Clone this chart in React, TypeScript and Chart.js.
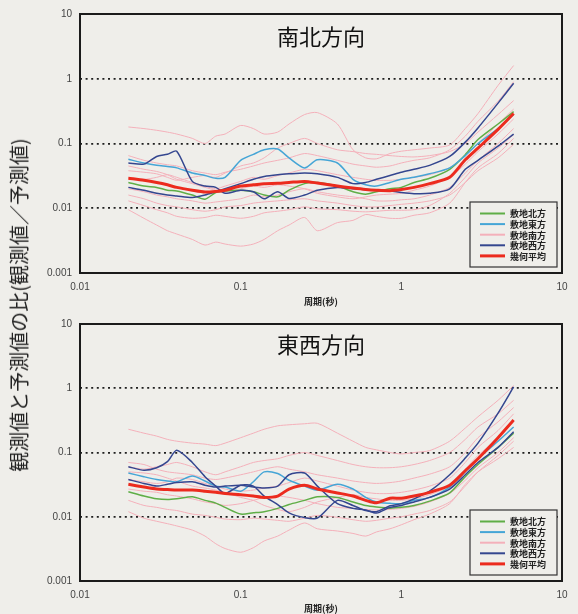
import React, { useEffect, useRef } from 'react';
import { Chart, registerables } from 'chart.js';

Chart.register(...registerables);

// ---------- data ----------
const PERIODS = [0.02, 0.025, 0.03, 0.035, 0.04, 0.05, 0.06, 0.07, 0.08, 0.1, 0.12, 0.14, 0.17, 0.2, 0.25, 0.3, 0.4, 0.5, 0.6, 0.7, 0.85, 1.0, 1.2, 1.5, 2.0, 2.5, 3.0, 4.0, 5.0];

const X_TICKS = [0.01, 0.1, 1, 10];
const X_TICK_LABELS = ['0.01', '0.1', '1', '10'];
const Y_TICKS = [0.001, 0.01, 0.1, 1, 10];
const Y_TICK_LABELS = ['0.001', '0.01', '0.1', '1', '10'];
const Y_GRID = [0.01, 0.1, 1];

const LEGEND_LABELS = ['敷地北方', '敷地東方', '敷地南方', '敷地西方', '幾何平均'];
const X_TITLE = '周期(秒)';
const Y_TITLE = '観測値と予測値の比(観測値／予測値)';
const TITLE_NS = '南北方向';
const TITLE_EW = '東西方向';

// 南北方向
const NS_MEAN = [0.029, 0.027, 0.025, 0.023, 0.021, 0.019, 0.0178, 0.0182, 0.019, 0.022, 0.023, 0.024, 0.0243, 0.025, 0.026, 0.0245, 0.022, 0.0205, 0.0195, 0.019, 0.0187, 0.0195, 0.021, 0.024, 0.03, 0.056, 0.085, 0.165, 0.29];
const NS_NORTH = [0.025, 0.022, 0.021, 0.019, 0.0185, 0.016, 0.0138, 0.0175, 0.0185, 0.019, 0.018, 0.016, 0.015, 0.019, 0.024, 0.025, 0.022, 0.018, 0.0165, 0.018, 0.02, 0.021, 0.025, 0.029, 0.04, 0.067, 0.115, 0.2, 0.31];
const NS_EAST = [0.057, 0.05, 0.046, 0.044, 0.042, 0.035, 0.032, 0.029, 0.03, 0.055, 0.068, 0.08, 0.082, 0.06, 0.042, 0.056, 0.05, 0.028, 0.023, 0.022, 0.025, 0.028, 0.03, 0.034, 0.042, 0.065, 0.1, 0.17, 0.28];
const NS_WEST_1 = [0.05, 0.048, 0.063, 0.068, 0.076, 0.026, 0.022, 0.021, 0.017, 0.019, 0.018, 0.014, 0.018, 0.0142, 0.016, 0.019, 0.021, 0.02, 0.0195, 0.019, 0.0185, 0.0175, 0.0168, 0.017, 0.02, 0.04, 0.055, 0.091, 0.14];
const NS_WEST_2 = [0.021, 0.019, 0.017, 0.016, 0.0155, 0.0147, 0.016, 0.018, 0.02, 0.024, 0.028, 0.031, 0.033, 0.034, 0.035, 0.034, 0.03, 0.024, 0.025, 0.028, 0.032, 0.036, 0.04, 0.046, 0.063, 0.105, 0.174, 0.42, 0.85];
const NS_SOUTH_1 = [0.18, 0.17, 0.16, 0.15, 0.14, 0.12, 0.1, 0.13, 0.14, 0.19, 0.17, 0.14, 0.15, 0.2, 0.28, 0.3, 0.2, 0.08, 0.06, 0.058, 0.07, 0.076, 0.08, 0.085, 0.095, 0.17, 0.29, 0.79, 1.6];
const NS_SOUTH_2 = [0.065, 0.055, 0.05, 0.047, 0.045, 0.038, 0.035, 0.033, 0.036, 0.04, 0.045, 0.05, 0.055, 0.06, 0.07, 0.065, 0.055, 0.048, 0.045, 0.043, 0.045, 0.05, 0.055, 0.06, 0.08, 0.13, 0.22, 0.45, 0.9];
const NS_SOUTH_3 = [0.038, 0.036, 0.034, 0.03, 0.027, 0.03, 0.032, 0.03, 0.035, 0.045, 0.05, 0.06, 0.085, 0.1, 0.12, 0.1, 0.08, 0.075, 0.07, 0.068, 0.065, 0.063, 0.062, 0.065, 0.075, 0.1, 0.15, 0.28, 0.46];
const NS_SOUTH_4 = [0.03, 0.028, 0.03, 0.033, 0.03, 0.025, 0.022, 0.02, 0.022, 0.026, 0.03, 0.028, 0.032, 0.035, 0.04, 0.038, 0.033, 0.03, 0.028, 0.027, 0.027, 0.028, 0.03, 0.033, 0.042, 0.065, 0.1, 0.2, 0.34];
const NS_SOUTH_5 = [0.045, 0.04, 0.037, 0.033, 0.028, 0.024, 0.021, 0.019, 0.018, 0.02, 0.022, 0.021, 0.023, 0.022, 0.02, 0.017, 0.015, 0.014, 0.015, 0.016, 0.0165, 0.017, 0.019, 0.022, 0.03, 0.048, 0.075, 0.14, 0.24];
const NS_SOUTH_6 = [0.02, 0.018, 0.016, 0.015, 0.014, 0.013, 0.012, 0.0125, 0.013, 0.014, 0.016, 0.015, 0.016, 0.018, 0.02, 0.018, 0.016, 0.015, 0.014, 0.013, 0.013, 0.0135, 0.014, 0.016, 0.021, 0.035, 0.055, 0.1, 0.17];
const NS_SOUTH_7 = [0.013, 0.011, 0.0095, 0.0085, 0.0075, 0.007, 0.0072, 0.0078, 0.0075, 0.007, 0.0075, 0.0085, 0.009, 0.0095, 0.0105, 0.0098, 0.0095, 0.009, 0.0088, 0.009, 0.0093, 0.0093, 0.0095, 0.011, 0.017, 0.03, 0.05, 0.085, 0.137];
const NS_SOUTH_8 = [0.0095, 0.007, 0.0055, 0.0045, 0.004, 0.0033, 0.0027, 0.003, 0.0028, 0.0026, 0.0028, 0.0033, 0.0045, 0.0055, 0.0072, 0.0045, 0.006, 0.0065, 0.008, 0.0075, 0.007, 0.007, 0.0078, 0.0085, 0.012, 0.025, 0.042, 0.07, 0.12];
const NS_SOUTH_9 = [0.016, 0.014, 0.012, 0.011, 0.0105, 0.0095, 0.009, 0.0095, 0.0105, 0.011, 0.012, 0.0125, 0.013, 0.0135, 0.014, 0.013, 0.012, 0.011, 0.0105, 0.0105, 0.011, 0.0115, 0.012, 0.013, 0.016, 0.025, 0.038, 0.06, 0.097];

// 東西方向
const EW_MEAN = [0.032, 0.029, 0.027, 0.0265, 0.026, 0.026, 0.025, 0.024, 0.023, 0.022, 0.021, 0.02, 0.021, 0.027, 0.031, 0.027, 0.0235, 0.021, 0.018, 0.0165, 0.0194, 0.0194, 0.021, 0.024, 0.031, 0.052, 0.08, 0.17, 0.32];
const EW_NORTH = [0.0245, 0.021, 0.019, 0.0185, 0.019, 0.0205, 0.018, 0.0163, 0.014, 0.011, 0.0115, 0.012, 0.0135, 0.0155, 0.018, 0.0205, 0.02, 0.017, 0.015, 0.0142, 0.0136, 0.014, 0.015, 0.0175, 0.0235, 0.042, 0.065, 0.12, 0.2];
const EW_EAST = [0.048, 0.042, 0.038, 0.036, 0.035, 0.043, 0.036, 0.03, 0.029, 0.025, 0.035, 0.05, 0.047, 0.037, 0.03, 0.026, 0.032, 0.027, 0.02, 0.017, 0.0162, 0.016, 0.018, 0.02, 0.029, 0.05, 0.08, 0.15, 0.25];
const EW_WEST_1 = [0.06, 0.053, 0.058, 0.072, 0.108, 0.07, 0.042, 0.03, 0.023, 0.031, 0.03, 0.021, 0.0155, 0.0115, 0.0097, 0.0095, 0.018, 0.015, 0.0125, 0.012, 0.0148, 0.016, 0.019, 0.025, 0.045, 0.082, 0.14, 0.41, 1.05];
const EW_WEST_2 = [0.038, 0.033, 0.03, 0.032, 0.034, 0.035, 0.031, 0.029, 0.03, 0.031, 0.029, 0.028, 0.03, 0.045, 0.048, 0.03, 0.016, 0.0135, 0.0128, 0.0114, 0.014, 0.015, 0.017, 0.02, 0.027, 0.045, 0.07, 0.12, 0.21];
const EW_SOUTH_1 = [0.23, 0.2, 0.18, 0.16, 0.15, 0.14, 0.135, 0.128, 0.14, 0.17, 0.2, 0.23, 0.26, 0.27, 0.28, 0.285, 0.2, 0.15, 0.12, 0.11, 0.1, 0.095, 0.1, 0.107, 0.15, 0.24, 0.36, 0.65, 1.1];
const EW_SOUTH_2 = [0.06, 0.055, 0.06, 0.065, 0.07, 0.06, 0.05, 0.045, 0.05, 0.06, 0.07, 0.075, 0.08, 0.09, 0.1, 0.09, 0.075, 0.065, 0.06, 0.058, 0.058, 0.06, 0.065, 0.075, 0.1, 0.16, 0.25, 0.4, 0.65];
const EW_SOUTH_3 = [0.038, 0.035, 0.033, 0.035, 0.04, 0.038, 0.033, 0.03, 0.027, 0.025, 0.026, 0.028, 0.03, 0.034, 0.04, 0.036, 0.03, 0.026, 0.024, 0.023, 0.023, 0.024, 0.026, 0.03, 0.04, 0.07, 0.12, 0.22, 0.4];
const EW_SOUTH_4 = [0.027, 0.025, 0.024, 0.022, 0.021, 0.019, 0.017, 0.016, 0.015, 0.016, 0.018, 0.02, 0.021, 0.02, 0.018, 0.016, 0.014, 0.0135, 0.013, 0.0128, 0.013, 0.0135, 0.0145, 0.017, 0.023, 0.037, 0.058, 0.1, 0.17];
const EW_SOUTH_5 = [0.05, 0.048, 0.045, 0.04, 0.036, 0.03, 0.028, 0.026, 0.024, 0.02, 0.018, 0.015, 0.013, 0.012, 0.014, 0.017, 0.02, 0.022, 0.02, 0.019, 0.018, 0.018, 0.019, 0.022, 0.03, 0.055, 0.09, 0.17, 0.32];
const EW_SOUTH_6 = [0.07, 0.065, 0.055, 0.05, 0.048, 0.045, 0.04, 0.038, 0.04, 0.045, 0.05, 0.055, 0.06, 0.055, 0.05, 0.045, 0.04, 0.036, 0.034, 0.033, 0.034, 0.036, 0.04, 0.046, 0.06, 0.1, 0.17, 0.3, 0.5];
const EW_SOUTH_7 = [0.012, 0.0095, 0.0085, 0.0078, 0.0072, 0.0062, 0.005, 0.0038, 0.0032, 0.0028, 0.0033, 0.0042, 0.005, 0.0062, 0.008, 0.0065, 0.006, 0.0055, 0.005, 0.0058, 0.0065, 0.0075, 0.009, 0.011, 0.016, 0.032, 0.05, 0.08, 0.12];
const EW_SOUTH_8 = [0.018, 0.015, 0.014, 0.013, 0.0125, 0.011, 0.0105, 0.0098, 0.0092, 0.009, 0.0095, 0.0092, 0.0088, 0.0085, 0.0095, 0.0105, 0.0098, 0.009, 0.0085, 0.0088, 0.0095, 0.01, 0.011, 0.0125, 0.017, 0.03, 0.05, 0.09, 0.15];

// ---------- style ----------
const BG = '#efeeea';
const C_NORTH = '#5fae47';
const C_EAST = '#45a5d6';
const C_SOUTH = '#f4b0ba';
const C_WEST = '#34468f';
const C_MEAN = '#ec2b1e';
const LEGEND_COLORS = [C_NORTH, C_EAST, C_SOUTH, C_WEST, C_MEAN];
const TICK_FONT = { family: "'Liberation Sans', Arial, sans-serif", size: 10 };
const JP = "'Noto Sans CJK JP', 'Noto Sans', sans-serif";

const toPts = (vals: (number | null)[]) =>
  PERIODS.map((p, i) => ({ x: p, y: vals[i] })).filter((d) => d.y != null);

const line = (vals: number[], color: string, width: number) => ({
  data: toPts(vals),
  borderColor: color,
  borderWidth: width,
  pointRadius: 0,
  tension: 0.25,
  fill: false,
});

type PanelProps = {
  title: string;
  mean: number[];
  north: number[];
  east: number[];
  west: number[][];
  south: number[][];
  top: number;
  height: number;
  padTop: number;
  xAxisHeight: number;
  titleOffset: number;
  xTitlePadBottom: number;
};

function Panel(props: PanelProps) {
  const ref = useRef<HTMLCanvasElement | null>(null);
  useEffect(() => {
    const datasets = [
      line(props.mean, C_MEAN, 3),
      ...props.west.map((w) => line(w, C_WEST, 1.5)),
      line(props.east, C_EAST, 1.5),
      line(props.north, C_NORTH, 1.5),
      ...props.south.map((s) => line(s, C_SOUTH, 1)),
    ];

    const decor = {
      id: 'decor',
      afterDraw(chart: any) {
        const { ctx, chartArea: a } = chart;
        ctx.save();
        // frame
        ctx.strokeStyle = '#1b1b1b';
        ctx.lineWidth = 2;
        ctx.strokeRect(a.left, a.top, a.right - a.left, a.bottom - a.top);
        // inner title
        ctx.fillStyle = '#111';
        ctx.font = `22px ${JP}`;
        ctx.textAlign = 'center';
        ctx.textBaseline = 'middle';
        ctx.fillText(props.title, (a.left + a.right) / 2, a.top + props.titleOffset);
        // legend box
        const w = 87;
        const h = 65;
        const bx = a.right - 5 - w;
        const by = a.bottom - 6 - h;
        ctx.fillStyle = BG;
        ctx.fillRect(bx, by, w, h);
        ctx.lineWidth = 1.2;
        ctx.strokeStyle = '#333';
        ctx.strokeRect(bx, by, w, h);
        ctx.font = `bold 9px ${JP}`;
        ctx.textAlign = 'left';
        LEGEND_LABELS.forEach((lab, i) => {
          const y = by + 11.5 + i * 10.6;
          ctx.strokeStyle = LEGEND_COLORS[i];
          ctx.lineWidth = i === 4 ? 3 : 2;
          ctx.beginPath();
          ctx.moveTo(bx + 10, y);
          ctx.lineTo(bx + 35, y);
          ctx.stroke();
          ctx.fillStyle = '#222';
          ctx.fillText(lab, bx + 40, y + 0.5);
        });
        ctx.restore();
      },
    };

    const chart = new Chart(ref.current as HTMLCanvasElement, {
      type: 'line',
      data: { datasets: datasets as any },
      options: {
        animation: false,
        responsive: false,
        devicePixelRatio: 1,
        layout: { padding: { top: props.padTop, right: 16, left: 0, bottom: 0 } },
        plugins: { legend: { display: false }, tooltip: { enabled: false } },
        scales: {
          x: {
            type: 'logarithmic',
            min: 0.01,
            max: 10,
            afterBuildTicks: (s: any) => {
              s.ticks = X_TICKS.map((v) => ({ value: v }));
            },
            afterFit: (s: any) => {
              s.height = props.xAxisHeight;
            },
            ticks: {
              autoSkip: false,
              maxRotation: 0,
              padding: 8,
              color: '#444',
              font: TICK_FONT,
              callback: (_v: any, i: number) => X_TICK_LABELS[i],
            },
            grid: { display: false, drawTicks: false },
            border: { display: false },
            title: {
              display: true,
              text: X_TITLE,
              color: '#222',
              font: { family: JP, size: 9, weight: 'bold' },
              padding: { top: 0, bottom: props.xTitlePadBottom },
            },
          },
          y: {
            type: 'logarithmic',
            min: 0.001,
            max: 10,
            afterBuildTicks: (s: any) => {
              s.ticks = Y_TICKS.map((v) => ({ value: v }));
            },
            afterFit: (s: any) => {
              s.width = 80;
            },
            ticks: {
              autoSkip: false,
              padding: 8,
              color: '#444',
              font: TICK_FONT,
              callback: (_v: any, i: number) => Y_TICK_LABELS[i],
            },
            grid: {
              drawTicks: false,
              lineWidth: 1.7,
              color: (c: any) =>
                c.tick && Y_GRID.includes(c.tick.value) ? '#1e1e1e' : 'rgba(0,0,0,0)',
            },
            border: { display: false, dash: [2, 3.6] },
          },
        },
      } as any,
      plugins: [decor],
    });
    return () => chart.destroy();
  }, []);

  return (
    <canvas
      ref={ref}
      width={578}
      height={props.height}
      style={{ position: 'absolute', left: 0, top: props.top, width: 578, height: props.height }}
    />
  );
}

export default function App() {
  return (
    <div
      style={{
        position: 'absolute',
        left: 0,
        top: 0,
        width: 578,
        height: 614,
        background: BG,
        overflow: 'hidden',
      }}
    >
      <Panel
        title={TITLE_NS}
        mean={NS_MEAN}
        north={NS_NORTH}
        east={NS_EAST}
        west={[NS_WEST_1, NS_WEST_2]}
        south={[NS_SOUTH_1, NS_SOUTH_2, NS_SOUTH_3, NS_SOUTH_4, NS_SOUTH_5, NS_SOUTH_6, NS_SOUTH_7, NS_SOUTH_8, NS_SOUTH_9]}
        top={0}
        height={310}
        padTop={10}
        xAxisHeight={37}
        titleOffset={23}
        xTitlePadBottom={3}
      />
      <Panel
        title={TITLE_EW}
        mean={EW_MEAN}
        north={EW_NORTH}
        east={EW_EAST}
        west={[EW_WEST_1, EW_WEST_2]}
        south={[EW_SOUTH_1, EW_SOUTH_2, EW_SOUTH_3, EW_SOUTH_4, EW_SOUTH_5, EW_SOUTH_6, EW_SOUTH_7, EW_SOUTH_8]}
        top={310}
        height={304}
        padTop={12}
        xAxisHeight={33}
        titleOffset={21}
        xTitlePadBottom={0}
      />
      <div
        style={{
          position: 'absolute',
          left: 19,
          top: 305,
          transform: 'translate(-50%, -50%) rotate(-90deg)',
          whiteSpace: 'nowrap',
          fontFamily: JP,
          fontSize: 20,
          color: '#222',
          lineHeight: 1,
        }}
      >
        {Y_TITLE}
      </div>
    </div>
  );
}
